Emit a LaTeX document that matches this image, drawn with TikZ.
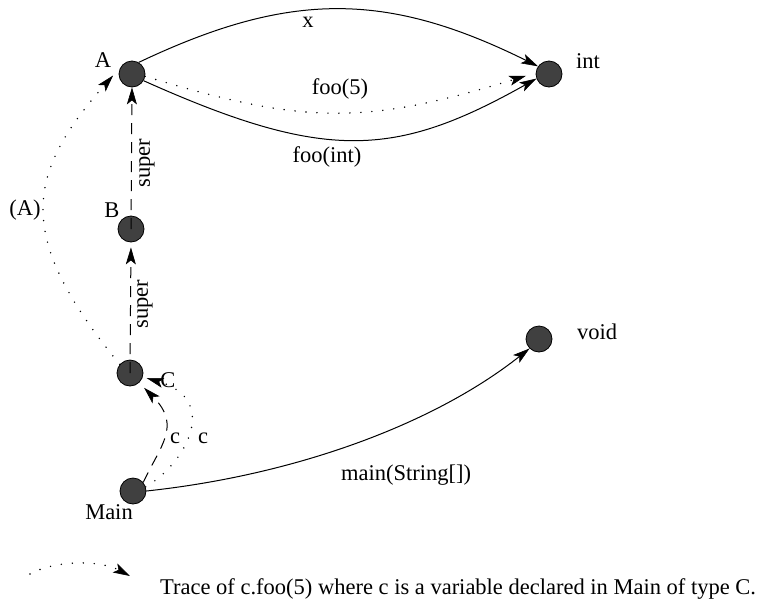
\documentclass[tikz,border=0pt]{standalone}
\usepackage{fontspec}
\setmainfont{Liberation Serif}
\usetikzlibrary{arrows.meta}
\definecolor{nodegray}{RGB}{64,64,64}
\begin{document}
\begin{tikzpicture}[x=1pt,y=-1pt,
  obj/.style={circle, draw=black, fill=nodegray, line width=0.8pt, minimum size=26pt, inner sep=0pt},
  lbl/.style={inner sep=0pt, font=\fontsize{22.5}{27}\selectfont},
  conn/.style={line width=1pt, -{Stealth[length=17pt,width=10pt,inset=4pt,line width=0.6pt]}},
  dotline/.style={dash pattern=on 0pt off 11pt, line cap=round, line width=1.6pt},
  dashline/.style={dash pattern=on 11pt off 8pt}]
\useasboundingbox (0,0) rectangle (763,603);
% nodes
\node[obj] (A) at (132,74) {};
\node[obj] (B) at (131,229) {};
\node[obj] (C) at (130,373) {};
\node[obj] (M) at (133,491) {};
\node[obj] (I) at (549,74) {};
\node[obj] (V) at (539,339) {};
% node labels
\node[lbl] (lA) at (103,60) {A};
\node[lbl] (lB) at (112,210) {B};
\node[lbl] (lC) at (168,380) {C};
\node[lbl] (lM) at (109,512) {Main};
\node[lbl] (lI) at (588,61) {int};
\node[lbl] (lV) at (597,332) {void};
% edges
\draw[conn] (A.60) .. controls (289,-9) and (386,-9) .. (I.145);
\draw[conn,dotline,shorten >=10pt] (A.-10) .. controls (305,125) and (365,125) .. (I.175);
\draw[conn] (A.-30) .. controls (325,162) and (395,158) .. (I.200);
\draw[conn,dashline] (B.center) -- (A.south);
\draw[conn,dashline,shorten >=5pt] (C.center) -- (B.south);
\draw[conn,dotline,shorten >=11pt] (C.140) .. controls (17,239) and (23,177) .. (A.150);
\draw[conn,dashline,shorten >=7pt] (M.40) .. controls (160,446) and (182,426) .. (C.-47);
\draw[conn,dotline,shorten >=4pt] (M.18) .. controls (185,464) and (221,400) .. (C.-17);
\draw[conn] (M.east) .. controls (296,475) and (434,424) .. (V.225);
% edge labels
\node[lbl] (ex) at (308,22) {x};
\node[lbl] (ef5) at (340,89) {foo(5)};
\node[lbl] (efi) at (327,157) {foo(int)};
\node[lbl,rotate=90] (es1) at (147,163) {super};
\node[lbl,rotate=90] (es2) at (145,304) {super};
\node[lbl] (eA) at (25,210) {(A)};
\node[lbl] (ec1) at (175,438) {c};
\node[lbl] (ec2) at (203,438) {c};
\node[lbl] (em) at (406,475) {main(String[])};
% legend
\coordinate (ls) at (30,574);
\coordinate (le) at (130,576);
\draw[conn,dotline] (ls) .. controls (55,560) and (100,560) .. (le);
\node[lbl,anchor=base west] (trace) at (160,594) {Trace of c.foo(5) where c is a variable declared in Main of type C.};
\end{tikzpicture}
\end{document}
